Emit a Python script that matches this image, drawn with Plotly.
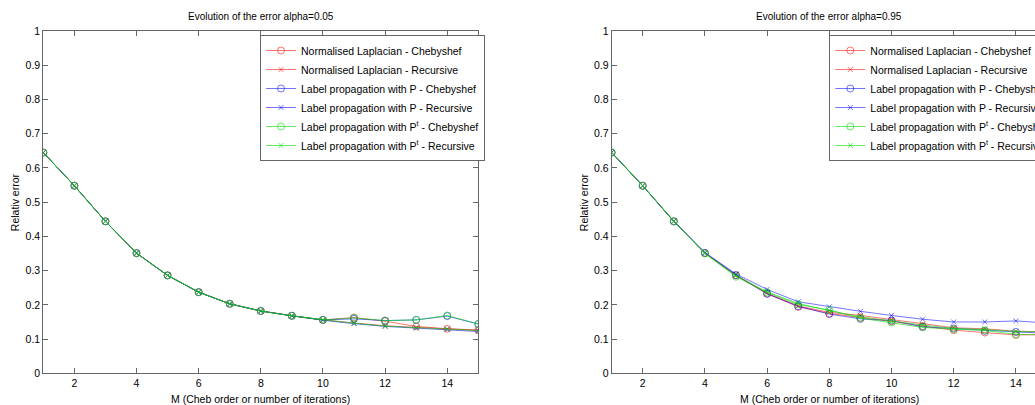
import plotly.graph_objects as go

# ---------------- data ----------------
M = list(range(1, 16))

names = [
    "Normalised Laplacian - Chebyshef",
    "Normalised Laplacian - Recursive",
    "Label propagation with P - Chebyshef",
    "Label propagation with P - Recursive",
    "Label propagation with P<sup>t</sup> - Chebyshef",
    "Label propagation with P<sup>t</sup> - Recursive",
]

# alpha = 0.05
a05_nl_cheb = [0.645, 0.548, 0.444, 0.351, 0.286, 0.237, 0.203, 0.182, 0.168, 0.156, 0.163, 0.152, 0.137, 0.130, 0.126]
a05_nl_rec  = [0.645, 0.548, 0.444, 0.351, 0.286, 0.237, 0.203, 0.182, 0.168, 0.156, 0.147, 0.139, 0.134, 0.130, 0.126]
a05_p_cheb  = [0.645, 0.548, 0.444, 0.351, 0.286, 0.237, 0.203, 0.182, 0.168, 0.156, 0.159, 0.154, 0.156, 0.167, 0.144]
a05_p_rec   = [0.645, 0.548, 0.444, 0.351, 0.286, 0.237, 0.203, 0.182, 0.168, 0.155, 0.145, 0.137, 0.132, 0.128, 0.122]
a05_pt_cheb = [0.645, 0.548, 0.444, 0.351, 0.286, 0.237, 0.203, 0.182, 0.168, 0.156, 0.162, 0.154, 0.156, 0.169, 0.144]
a05_pt_rec  = [0.645, 0.548, 0.444, 0.351, 0.286, 0.237, 0.203, 0.182, 0.168, 0.156, 0.146, 0.138, 0.133, 0.129, 0.125]

# alpha = 0.95
a95_nl_cheb = [0.645, 0.548, 0.444, 0.351, 0.286, 0.233, 0.194, 0.175, 0.163, 0.152, 0.138, 0.126, 0.119, 0.112, 0.113]
a95_nl_rec  = [0.645, 0.548, 0.444, 0.351, 0.287, 0.234, 0.197, 0.178, 0.169, 0.157, 0.143, 0.133, 0.130, 0.123, 0.121]
a95_p_cheb  = [0.645, 0.548, 0.444, 0.352, 0.287, 0.232, 0.196, 0.173, 0.159, 0.154, 0.136, 0.131, 0.124, 0.121, 0.117]
a95_p_rec   = [0.645, 0.548, 0.444, 0.353, 0.290, 0.245, 0.209, 0.194, 0.181, 0.169, 0.158, 0.150, 0.150, 0.153, 0.147]
a95_pt_cheb = [0.645, 0.548, 0.444, 0.350, 0.282, 0.236, 0.201, 0.185, 0.161, 0.148, 0.134, 0.129, 0.125, 0.114, 0.112]
a95_pt_rec  = [0.645, 0.548, 0.444, 0.351, 0.285, 0.238, 0.204, 0.183, 0.165, 0.152, 0.141, 0.131, 0.128, 0.122, 0.121]

titles = ["Evolution of the error alpha=0.05", "Evolution of the error alpha=0.95"]
x_title = "M (Cheb order or number of iterations)"
y_title = "Relativ error"
x_ticks = [2, 4, 6, 8, 10, 12, 14]
y_ticks = [0, 0.1, 0.2, 0.3, 0.4, 0.5, 0.6, 0.7, 0.8, 0.9, 1]
y_ticktext = ["0", "0.1", "0.2", "0.3", "0.4", "0.5", "0.6", "0.7", "0.8", "0.9", "1"]

# ---------------- styling ----------------
W, H = 1090, 405
FONT = "Liberation Sans, Arial, sans-serif"
colors = ["rgba(255,0,0,0.55)", "rgba(255,0,0,0.55)",
          "rgba(0,0,255,0.55)", "rgba(0,0,255,0.55)",
          "rgba(0,220,0,0.6)", "rgba(0,220,0,0.6)"]
symbols = ["circle-open", "x-thin-open", "circle-open", "x-thin-open", "circle-open", "x-thin-open"]
sizes = [7, 5, 7, 5, 7, 5]

xdom = [[43.3 / W, 478.3 / W], [611.6 / W, 1047.0 / W]]
ydom = [1 - 373.3 / H, 1 - 31.0 / H]

sets = [
    [a05_nl_cheb, a05_nl_rec, a05_p_cheb, a05_p_rec, a05_pt_cheb, a05_pt_rec],
    [a95_nl_cheb, a95_nl_rec, a95_p_cheb, a95_p_rec, a95_pt_cheb, a95_pt_rec],
]

fig = go.Figure()
for k, series in enumerate(sets):
    xa = "x" if k == 0 else "x2"
    ya = "y" if k == 0 else "y2"
    lg = "legend" if k == 0 else "legend2"
    for i, ys in enumerate(series):
        fig.add_trace(go.Scatter(
            x=M, y=ys, name=names[i], mode="lines+markers",
            xaxis=xa, yaxis=ya, legend=lg,
            line=dict(color=colors[i], width=1),
            marker=dict(symbol=symbols[i], size=sizes[i], color=colors[i],
                        line=dict(color=colors[i], width=1)),
        ))

axis_common = dict(
    showline=True, linecolor="#666666", linewidth=1, mirror="ticks",
    ticks="inside", ticklen=5, tickcolor="#666666", tickwidth=1,
    showgrid=False, zeroline=False,
    tickfont=dict(family=FONT, size=10.5, color="#000000"),
)

layout = dict(
    width=W, height=H, autosize=False,
    margin=dict(l=0, r=0, t=0, b=0, autoexpand=False),
    paper_bgcolor="white", plot_bgcolor="white",
    font=dict(family=FONT, size=10, color="#000000"),
    showlegend=True,
)
for k in range(2):
    sx = "" if k == 0 else "2"
    layout["xaxis" + sx] = dict(axis_common, domain=xdom[k], range=[1, 15],
                                tickvals=x_ticks, anchor="y" + sx)
    layout["yaxis" + sx] = dict(axis_common, domain=ydom, range=[0, 1],
                                tickvals=y_ticks, ticktext=y_ticktext, anchor="x" + sx)

legend_common = dict(
    xanchor="left", yanchor="top", y=1 - 35 / H,
    bgcolor="white", bordercolor="#666666", borderwidth=1,
    font=dict(family=FONT, size=10.5, color="#000000"),
    itemwidth=30, tracegroupgap=0, traceorder="normal",
)
layout["legend"] = dict(legend_common, x=260 / W)
layout["legend2"] = dict(legend_common, x=829.3 / W)

annotations = []
for k in range(2):
    cx = (xdom[k][0] + xdom[k][1]) / 2
    annotations.append(dict(text=titles[k], x=cx, y=1 - 17 / H, xref="paper", yref="paper",
                            xanchor="center", yanchor="middle", showarrow=False,
                            font=dict(family=FONT, size=10)))
    annotations.append(dict(text=x_title, x=cx, y=1 - 399 / H, xref="paper", yref="paper",
                            xanchor="center", yanchor="middle", showarrow=False,
                            font=dict(family=FONT, size=10.5)))
    yx = (15 / W) if k == 0 else (584 / W)
    annotations.append(dict(text=y_title, x=yx, y=(ydom[0] + ydom[1]) / 2, xref="paper", yref="paper",
                            xanchor="center", yanchor="middle", showarrow=False, textangle=-90,
                            font=dict(family=FONT, size=10.5)))
layout["annotations"] = annotations

fig.update_layout(**layout)

fig.write_html("out.html",
               post_script="document.body.style.overflow='hidden';document.documentElement.style.overflow='hidden';")
